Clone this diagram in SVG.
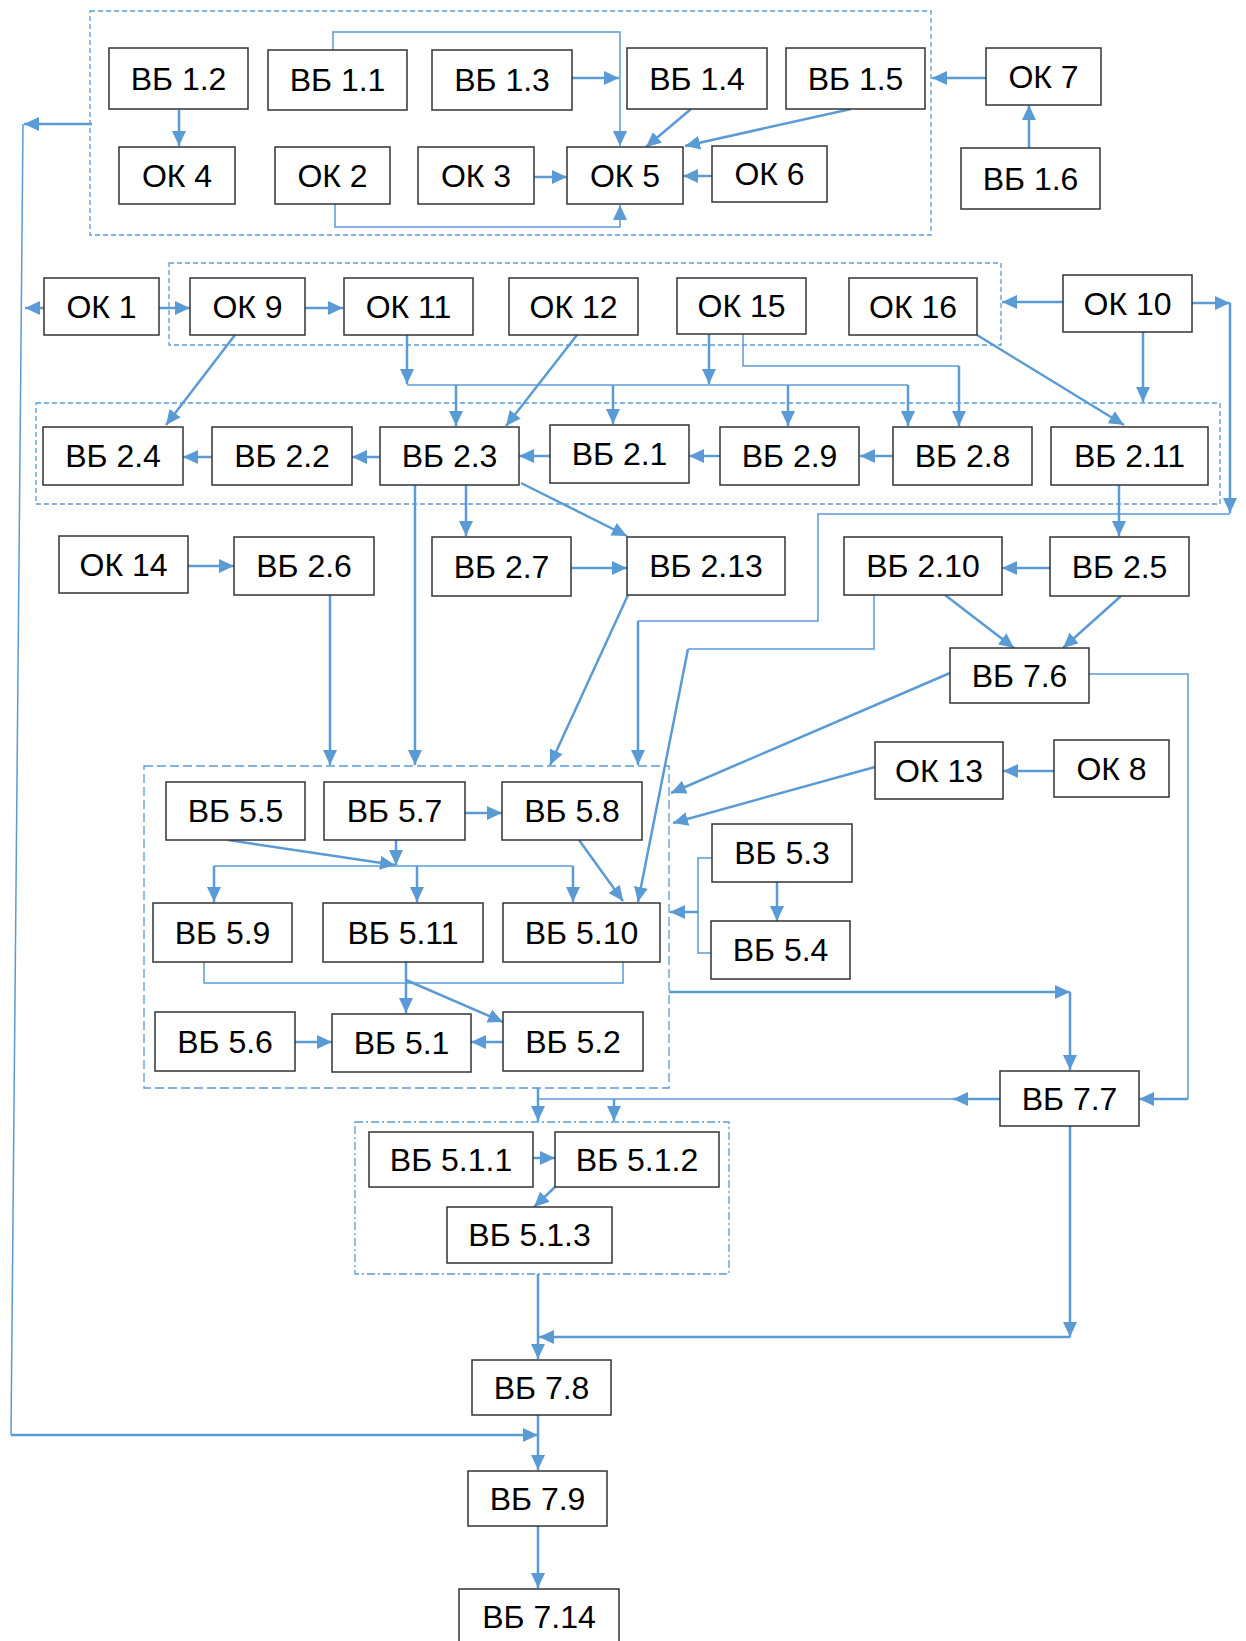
<svg xmlns="http://www.w3.org/2000/svg" width="1246" height="1641" viewBox="0 0 1246 1641">
<style>
.n rect{fill:#fff;stroke:#333;stroke-width:1.5}
.n text{font-family:"Liberation Sans",Arial,sans-serif;font-size:32px;fill:#000;text-anchor:middle}
.grp{fill:none;stroke:#5B9BD5;stroke-width:1.3}
.d1{stroke-dasharray:5 3}
.d2{stroke-dasharray:9 4}
.d3{stroke-dasharray:8 3 2 3}
#connectors path{fill:none;stroke:#5B9BD5}
.k{stroke-width:2.5}
.t{stroke-width:1.5}
</style>
<defs>
<marker id="a" markerUnits="userSpaceOnUse" markerWidth="15" markerHeight="14" refX="15" refY="7" orient="auto"><path d="M0,0 L15,7 L0,14 z" fill="#5B9BD5"/></marker>
</defs>
<rect width="1246" height="1641" fill="#fff"/>
<g id="groups">
<rect class="grp d1" x="90" y="11" width="841" height="224"/>
<rect class="grp d1" x="169" y="263" width="832" height="82"/>
<rect class="grp d1" x="36" y="403" width="1184" height="101"/>
<rect class="grp d2" x="144" y="766" width="525" height="322"/>
<rect class="grp d3" x="355" y="1122" width="374" height="152"/>
</g>
<g id="connectors">
<path class="k" d="M179,109 V146" marker-end="url(#a)"/>
<path class="t" d="M333,50 V32 H620 V146" marker-end="url(#a)"/>
<path class="k" d="M572,78 H619" marker-end="url(#a)"/>
<path class="k" d="M691,109 L646,147" marker-end="url(#a)"/>
<path class="k" d="M851,109 L685,146" marker-end="url(#a)"/>
<path class="k" d="M986,78 H932" marker-end="url(#a)"/>
<path class="k" d="M1029,148 V105" marker-end="url(#a)"/>
<path class="k" d="M534,177 H567" marker-end="url(#a)"/>
<path class="k" d="M712,176 H683" marker-end="url(#a)"/>
<path class="t" d="M335,204 V227 H620 V205" marker-end="url(#a)"/>
<path class="k" d="M92,124 H24" marker-end="url(#a)"/>
<path class="t" d="M23,124 L11,1435"/>
<path class="k" d="M11,1435 H538" marker-end="url(#a)"/>
<path class="k" d="M44,308 H25" marker-end="url(#a)"/>
<path class="k" d="M159,308 H190" marker-end="url(#a)"/>
<path class="k" d="M305,308 H343" marker-end="url(#a)"/>
<path class="k" d="M235,335 L166,425" marker-end="url(#a)"/>
<path class="k" d="M407,335 V384" marker-end="url(#a)"/>
<path class="k" d="M709,334 V384" marker-end="url(#a)"/>
<path class="t" d="M407,385 H908"/>
<path class="k" d="M456,385 V426" marker-end="url(#a)"/>
<path class="k" d="M613,385 V424" marker-end="url(#a)"/>
<path class="k" d="M788,385 V426" marker-end="url(#a)"/>
<path class="k" d="M908,385 V426" marker-end="url(#a)"/>
<path class="k" d="M577,335 L506,426" marker-end="url(#a)"/>
<path class="t" d="M743,334 V366 H959"/>
<path class="k" d="M959,366 V426" marker-end="url(#a)"/>
<path class="k" d="M1063,302 H1002" marker-end="url(#a)"/>
<path class="k" d="M1192,303 H1230" marker-end="url(#a)"/>
<path class="k" d="M1230,303 V513" marker-end="url(#a)"/>
<path class="t" d="M1230,514 H818 V621 H638"/>
<path class="k" d="M638,621 V765" marker-end="url(#a)"/>
<path class="k" d="M1143,332 V402" marker-end="url(#a)"/>
<path class="k" d="M977,335 L1124,425" marker-end="url(#a)"/>
<path class="k" d="M893,456 H860" marker-end="url(#a)"/>
<path class="k" d="M720,456 H689" marker-end="url(#a)"/>
<path class="k" d="M550,456 H519" marker-end="url(#a)"/>
<path class="k" d="M380,457 H352" marker-end="url(#a)"/>
<path class="k" d="M212,457 H183" marker-end="url(#a)"/>
<path class="k" d="M1119,485 V536" marker-end="url(#a)"/>
<path class="k" d="M466,485 V536" marker-end="url(#a)"/>
<path class="k" d="M521,483 L627,536" marker-end="url(#a)"/>
<path class="k" d="M415,485 V765" marker-end="url(#a)"/>
<path class="k" d="M188,566 H234" marker-end="url(#a)"/>
<path class="k" d="M330,595 V765" marker-end="url(#a)"/>
<path class="k" d="M571,568 H627" marker-end="url(#a)"/>
<path class="k" d="M628,595 L550,765" marker-end="url(#a)"/>
<path class="k" d="M1050,568 H1002" marker-end="url(#a)"/>
<path class="k" d="M945,595 L1014,648" marker-end="url(#a)"/>
<path class="k" d="M1121,596 L1063,648" marker-end="url(#a)"/>
<path class="t" d="M874,595 V649 H688"/>
<path class="k" d="M688,649 L638,902" marker-end="url(#a)"/>
<path class="k" d="M950,673 L671,793" marker-end="url(#a)"/>
<path class="t" d="M1089,674 H1188 V1099"/>
<path class="k" d="M1188,1099 H1139" marker-end="url(#a)"/>
<path class="k" d="M1054,771 H1003" marker-end="url(#a)"/>
<path class="k" d="M875,767 L673,823" marker-end="url(#a)"/>
<path class="k" d="M465,813 H502" marker-end="url(#a)"/>
<path class="k" d="M228,840 L395,865" marker-end="url(#a)"/>
<path class="k" d="M396,840 V865" marker-end="url(#a)"/>
<path class="t" d="M214,866 H573"/>
<path class="k" d="M214,866 V902" marker-end="url(#a)"/>
<path class="k" d="M417,866 V902" marker-end="url(#a)"/>
<path class="k" d="M573,866 V902" marker-end="url(#a)"/>
<path class="k" d="M579,840 L623,901" marker-end="url(#a)"/>
<path class="t" d="M204,962 V983 H623 V962"/>
<path class="k" d="M406,962 V1013" marker-end="url(#a)"/>
<path class="k" d="M406,980 L503,1022" marker-end="url(#a)"/>
<path class="k" d="M295,1042 H332" marker-end="url(#a)"/>
<path class="k" d="M503,1042 H471" marker-end="url(#a)"/>
<path class="k" d="M777,882 V921" marker-end="url(#a)"/>
<path class="t" d="M712,858 H698 V953 H711"/>
<path class="k" d="M698,912 H670" marker-end="url(#a)"/>
<path class="k" d="M669,992 H1070" marker-end="url(#a)"/>
<path class="k" d="M1070,992 V1070" marker-end="url(#a)"/>
<path class="k" d="M1000,1099 H953" marker-end="url(#a)"/>
<path class="t" d="M953,1099 H538"/>
<path class="k" d="M538,1088 V1121" marker-end="url(#a)"/>
<path class="k" d="M614,1099 V1121" marker-end="url(#a)"/>
<path class="k" d="M533,1158 H555" marker-end="url(#a)"/>
<path class="k" d="M555,1187 L534,1207" marker-end="url(#a)"/>
<path class="k" d="M538,1274 V1359" marker-end="url(#a)"/>
<path class="k" d="M1070,1126 V1337" marker-end="url(#a)"/>
<path class="k" d="M1070,1337 H539" marker-end="url(#a)"/>
<path class="k" d="M538,1415 V1470" marker-end="url(#a)"/>
<path class="k" d="M538,1526 V1588" marker-end="url(#a)"/>
</g>
<g id="vb12" class="n"><rect x="109" y="48" width="139" height="61"/><text x="178.5" y="89.5">ВБ 1.2</text></g>
<g id="vb11" class="n"><rect x="268" y="50" width="139" height="60"/><text x="337.5" y="91">ВБ 1.1</text></g>
<g id="vb13" class="n"><rect x="432" y="50" width="140" height="60"/><text x="502" y="91">ВБ 1.3</text></g>
<g id="vb14" class="n"><rect x="627" y="48" width="140" height="61"/><text x="697" y="89.5">ВБ 1.4</text></g>
<g id="vb15" class="n"><rect x="786" y="48" width="139" height="61"/><text x="855.5" y="89.5">ВБ 1.5</text></g>
<g id="ok7" class="n"><rect x="986" y="48" width="115" height="57"/><text x="1043.5" y="87.5">ОК 7</text></g>
<g id="ok4" class="n"><rect x="119" y="147" width="116" height="57"/><text x="177" y="186.5">ОК 4</text></g>
<g id="ok2" class="n"><rect x="275" y="147" width="115" height="57"/><text x="332.5" y="186.5">ОК 2</text></g>
<g id="ok3" class="n"><rect x="418" y="147" width="116" height="57"/><text x="476" y="186.5">ОК 3</text></g>
<g id="ok5" class="n"><rect x="567" y="147" width="116" height="57"/><text x="625" y="186.5">ОК 5</text></g>
<g id="ok6" class="n"><rect x="712" y="146" width="115" height="56"/><text x="769.5" y="185">ОК 6</text></g>
<g id="vb16" class="n"><rect x="961" y="148" width="139" height="61"/><text x="1030.5" y="189.5">ВБ 1.6</text></g>
<g id="ok1" class="n"><rect x="44" y="278" width="115" height="57"/><text x="101.5" y="317.5">ОК 1</text></g>
<g id="ok9" class="n"><rect x="190" y="278" width="115" height="57"/><text x="247.5" y="317.5">ОК 9</text></g>
<g id="ok11" class="n"><rect x="344" y="278" width="129" height="57"/><text x="408.5" y="317.5">ОК 11</text></g>
<g id="ok12" class="n"><rect x="509" y="278" width="129" height="57"/><text x="573.5" y="317.5">ОК 12</text></g>
<g id="ok15" class="n"><rect x="677" y="278" width="129" height="56"/><text x="741.5" y="317">ОК 15</text></g>
<g id="ok16" class="n"><rect x="849" y="278" width="128" height="57"/><text x="913" y="317.5">ОК 16</text></g>
<g id="ok10" class="n"><rect x="1063" y="275" width="129" height="57"/><text x="1127.5" y="314.5">ОК 10</text></g>
<g id="vb24" class="n"><rect x="43" y="427" width="140" height="58"/><text x="113" y="467">ВБ 2.4</text></g>
<g id="vb22" class="n"><rect x="212" y="427" width="140" height="58"/><text x="282" y="467">ВБ 2.2</text></g>
<g id="vb23" class="n"><rect x="380" y="427" width="139" height="58"/><text x="449.5" y="467">ВБ 2.3</text></g>
<g id="vb21" class="n"><rect x="550" y="425" width="139" height="58"/><text x="619.5" y="465">ВБ 2.1</text></g>
<g id="vb29" class="n"><rect x="720" y="427" width="139" height="58"/><text x="789.5" y="467">ВБ 2.9</text></g>
<g id="vb28" class="n"><rect x="893" y="427" width="139" height="58"/><text x="962.5" y="467">ВБ 2.8</text></g>
<g id="vb211" class="n"><rect x="1051" y="427" width="157" height="58"/><text x="1129.5" y="467">ВБ 2.11</text></g>
<g id="ok14" class="n"><rect x="59" y="536" width="129" height="57"/><text x="123.5" y="575.5">ОК 14</text></g>
<g id="vb26" class="n"><rect x="234" y="537" width="140" height="58"/><text x="304" y="577">ВБ 2.6</text></g>
<g id="vb27" class="n"><rect x="432" y="537" width="139" height="59"/><text x="501.5" y="577.5">ВБ 2.7</text></g>
<g id="vb213" class="n"><rect x="627" y="537" width="158" height="58"/><text x="706" y="577">ВБ 2.13</text></g>
<g id="vb210" class="n"><rect x="844" y="537" width="158" height="58"/><text x="923" y="577">ВБ 2.10</text></g>
<g id="vb25" class="n"><rect x="1050" y="537" width="139" height="59"/><text x="1119.5" y="577.5">ВБ 2.5</text></g>
<g id="vb76" class="n"><rect x="950" y="648" width="139" height="55"/><text x="1019.5" y="686.5">ВБ 7.6</text></g>
<g id="ok13" class="n"><rect x="875" y="742" width="128" height="57"/><text x="939" y="781.5">ОК 13</text></g>
<g id="ok8" class="n"><rect x="1054" y="740" width="115" height="57"/><text x="1111.5" y="779.5">ОК 8</text></g>
<g id="vb55" class="n"><rect x="166" y="782" width="139" height="58"/><text x="235.5" y="822">ВБ 5.5</text></g>
<g id="vb57" class="n"><rect x="324" y="782" width="141" height="58"/><text x="394.5" y="822">ВБ 5.7</text></g>
<g id="vb58" class="n"><rect x="502" y="782" width="140" height="58"/><text x="572" y="822">ВБ 5.8</text></g>
<g id="vb53" class="n"><rect x="712" y="824" width="140" height="58"/><text x="782" y="864">ВБ 5.3</text></g>
<g id="vb59" class="n"><rect x="153" y="903" width="139" height="59"/><text x="222.5" y="943.5">ВБ 5.9</text></g>
<g id="vb511" class="n"><rect x="323" y="903" width="160" height="59"/><text x="403" y="943.5">ВБ 5.11</text></g>
<g id="vb510" class="n"><rect x="503" y="903" width="157" height="59"/><text x="581.5" y="943.5">ВБ 5.10</text></g>
<g id="vb54" class="n"><rect x="711" y="921" width="139" height="58"/><text x="780.5" y="961">ВБ 5.4</text></g>
<g id="vb56" class="n"><rect x="155" y="1012" width="140" height="59"/><text x="225" y="1052.5">ВБ 5.6</text></g>
<g id="vb51" class="n"><rect x="332" y="1014" width="139" height="58"/><text x="401.5" y="1054">ВБ 5.1</text></g>
<g id="vb52" class="n"><rect x="503" y="1012" width="140" height="59"/><text x="573" y="1052.5">ВБ 5.2</text></g>
<g id="vb77" class="n"><rect x="1000" y="1071" width="139" height="55"/><text x="1069.5" y="1109.5">ВБ 7.7</text></g>
<g id="vb511x" class="n"><rect x="369" y="1132" width="164" height="55"/><text x="451" y="1170.5">ВБ 5.1.1</text></g>
<g id="vb512" class="n"><rect x="555" y="1132" width="164" height="55"/><text x="637" y="1170.5">ВБ 5.1.2</text></g>
<g id="vb513" class="n"><rect x="447" y="1207" width="165" height="56"/><text x="529.5" y="1246">ВБ 5.1.3</text></g>
<g id="vb78" class="n"><rect x="472" y="1360" width="139" height="55"/><text x="541.5" y="1398.5">ВБ 7.8</text></g>
<g id="vb79" class="n"><rect x="468" y="1471" width="139" height="55"/><text x="537.5" y="1509.5">ВБ 7.9</text></g>
<g id="vb714" class="n"><rect x="459" y="1589" width="160" height="60"/><text x="539" y="1628">ВБ 7.14</text></g>
</svg>
